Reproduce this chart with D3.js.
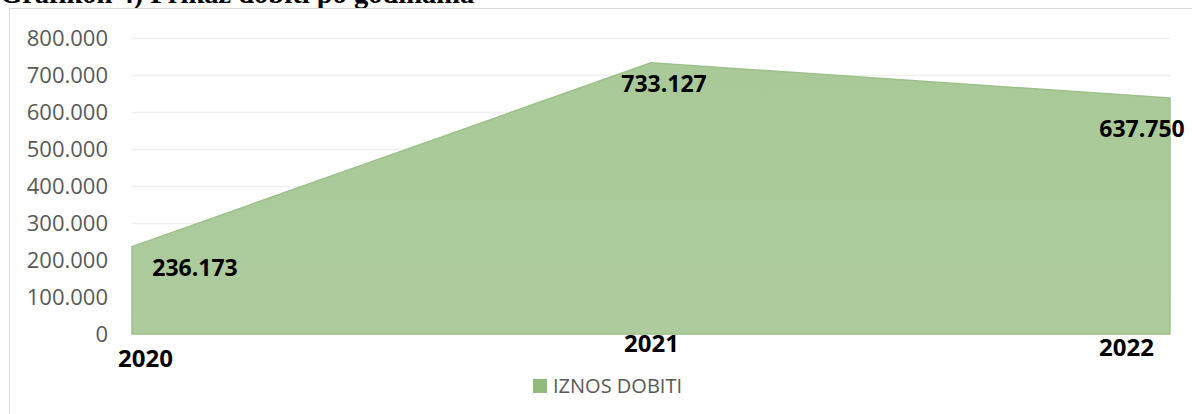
<!DOCTYPE html>
<html>
<head>
<meta charset="utf-8">
<script src="https://cdn.jsdelivr.net/npm/d3@7"></script>
<style>
  html, body { margin: 0; padding: 0; background: #fff; }
  svg { display: block; }
</style>
</head>
<body>
<svg id="chart" width="1192" height="414"></svg>
<script>
// ---- data ----
const years = ["2020", "2021", "2022"];
const profit = [236173, 733127, 637750];
const yTicks = [0, 100000, 200000, 300000, 400000, 500000, 600000, 700000, 800000];
const seriesName = "IZNOS DOBITI";
const titleText = "Grafikon 4)  Prikaz dobiti po godinama";

// ---- layout (not data) ----
const labelOffsets = [[63, 21], [13, 21], [-28, 31]];
const yearOffsets = [[13, 24], [0, 9], [-44, 13]];

const svg = d3.select("#chart");
const W = 1192, H = 414;
const x = d3.scalePoint().domain(years).range([132, 1170]);
const y = d3.scaleLinear().domain([0, 800000]).range([334, 38]);

const loc = d3.formatLocale({ decimal: ",", thousands: ".", grouping: [3], currency: ["", ""] });
const fmt = loc.format(",");

// title (partially cut at the top, as in the source)
svg.append("text")
  .attr("x", 0).attr("y", 3)
  .attr("font-family", "Liberation Serif, Times New Roman, serif")
  .attr("font-weight", "bold")
  .attr("font-size", 28.5)
  .attr("fill", "#000")
  .text(titleText);

// chart frame
svg.append("rect")
  .attr("x", 9.5).attr("y", 8.5)
  .attr("width", W + 20).attr("height", H + 20)
  .attr("fill", "#fff")
  .attr("stroke", "#d9d9d9")
  .attr("stroke-width", 1);

// gridlines
const grid = svg.append("g")
  .attr("transform", "translate(132,0)")
  .call(d3.axisLeft(y).tickValues(yTicks).tickSize(-(1170 - 132)).tickFormat(""));
grid.select(".domain").remove();
grid.selectAll(".tick line").attr("stroke", "#efefef").attr("stroke-width", 1.3);

// y axis labels
const yAxis = svg.append("g")
  .attr("transform", "translate(108,0)")
  .call(d3.axisLeft(y).tickValues(yTicks).tickSize(0).tickPadding(0).tickFormat(fmt));
yAxis.select(".domain").remove();
yAxis.selectAll("text")
  .attr("font-family", "Open Sans, sans-serif")
  .attr("font-size", 22)
  .attr("fill", "#595959");

// area
const data = years.map((yr, i) => ({ year: yr, value: profit[i] }));
const defs = svg.append("defs");
const grad = defs.append("linearGradient").attr("id", "g").attr("x1", 0).attr("y1", 0).attr("x2", 0).attr("y2", 1);
grad.append("stop").attr("offset", "0%").attr("stop-color", "#a9c998");
grad.append("stop").attr("offset", "100%").attr("stop-color", "#adcb9d");

const area = d3.area()
  .x(d => x(d.year))
  .y0(y(0))
  .y1(d => y(d.value));

svg.append("path")
  .datum(data)
  .attr("d", area)
  .attr("fill", "url(#g)")
  .attr("stroke", "#9cc28a")
  .attr("stroke-width", 1.5);

// data labels
svg.append("g").selectAll("text")
  .data(data)
  .join("text")
  .attr("x", (d, i) => x(d.year) + labelOffsets[i][0])
  .attr("y", (d, i) => y(d.value) + labelOffsets[i][1])
  .attr("dy", "0.36em")
  .attr("text-anchor", "middle")
  .attr("font-family", "Open Sans, sans-serif")
  .attr("font-weight", "bold")
  .attr("font-size", 23)
  .attr("fill", "#000")
  .text(d => fmt(d.value));

// x axis year labels
const xAxis = svg.append("g")
  .attr("transform", `translate(0,${y(0)})`)
  .call(d3.axisBottom(x).tickSize(0).tickPadding(0));
xAxis.select(".domain").remove();
xAxis.selectAll("text")
  .attr("font-family", "Open Sans, sans-serif")
  .attr("font-weight", "bold")
  .attr("font-size", 24)
  .attr("fill", "#000")
  .attr("x", (d, i) => yearOffsets[i][0])
  .attr("y", (d, i) => yearOffsets[i][1])
  .attr("dy", "0.36em");

// legend
const lg = svg.append("g").attr("transform", "translate(533,379)");
lg.append("rect").attr("width", 14).attr("height", 14).attr("fill", "#91bb7e");
lg.append("text")
  .attr("x", 20).attr("y", 7).attr("dy", "0.36em")
  .attr("font-family", "Open Sans, sans-serif")
  .attr("font-size", 20)
  .attr("fill", "#595959")
  .text(seriesName);
</script>
</body>
</html>
